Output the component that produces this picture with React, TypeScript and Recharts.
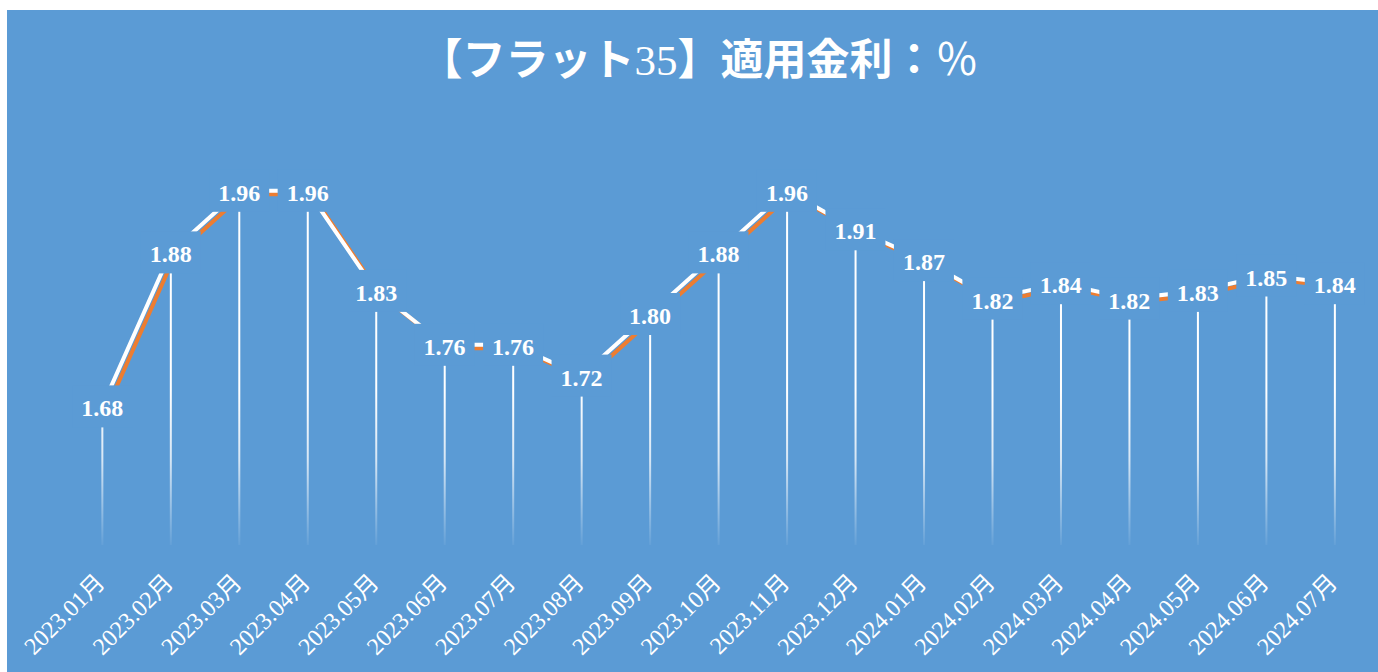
import React from 'react';
import { ComposedChart, Line, Bar, XAxis, YAxis, LabelList } from 'recharts';

const categories = [
  '2023.01月', '2023.02月', '2023.03月', '2023.04月', '2023.05月', '2023.06月', '2023.07月',
  '2023.08月', '2023.09月', '2023.10月', '2023.11月', '2023.12月', '2024.01月', '2024.02月',
  '2024.03月', '2024.04月', '2024.05月', '2024.06月', '2024.07月',
];
const rates = [1.68, 1.88, 1.96, 1.96, 1.83, 1.76, 1.76, 1.72, 1.80, 1.88, 1.96, 1.91, 1.87, 1.82, 1.84, 1.82, 1.83, 1.85, 1.84];
const yDomain = [1.5, 2.1];

const BG = '#5B9BD5';
const ORANGE = '#ED7D31';
const SERIF = "'Liberation Serif', 'Noto Sans CJK JP', serif";

const data = categories.map((month, i) => ({ month, rate: rates[i] }));

const W = 1371;
const H = 662;

const DropLine = (props: any) => {
  const { x, y, width, height } = props;
  if (height == null || height <= 0) return null;
  return <rect x={x + width / 2 - 1} y={y} width={2} height={height} fill="url(#dropGrad)" />;
};

const ValueLabel = (props: any) => {
  const { x, y, value } = props;
  if (x == null || y == null) return null;
  return (
    <g>
      <rect x={x - 30} y={y - 21} width={60} height={42} fill={BG} />
      <text
        x={x}
        y={y + 10}
        textAnchor="middle"
        fill="#fff"
        fontFamily={SERIF}
        fontWeight="bold"
        fontSize={24}
      >
        {Number(value).toFixed(2)}
      </text>
    </g>
  );
};

const MonthTick = (props: any) => {
  const { x, y, payload } = props;
  const tx = x + 4;
  const ty = y + 39;
  return (
    <text
      x={tx}
      y={ty}
      transform={`rotate(-45, ${tx}, ${ty})`}
      textAnchor="end"
      fill="#fff"
      fontFamily={SERIF}
      fontSize={24}
    >
      {payload.value}
    </text>
  );
};

export default function App() {
  return (
    <div
      style={{
        position: 'fixed',
        left: 7,
        top: 10,
        width: W,
        height: H,
        background: BG,
        overflow: 'hidden',
      }}
    >
      <style>{`.shadow-line { transform: translate(4px, 3.5px); }`}</style>
      <ComposedChart
        width={W}
        height={H}
        data={data}
        margin={{ top: 73, right: 9, bottom: 0, left: 61 }}
      >
        <defs>
          <linearGradient id="dropGrad" x1="0" y1="380" x2="0" y2="535" gradientUnits="userSpaceOnUse">
            <stop offset="0" stopColor="#fff" stopOpacity={1} />
            <stop offset="0.45" stopColor="#fff" stopOpacity={0.75} />
            <stop offset="1" stopColor="#fff" stopOpacity={0.05} />
          </linearGradient>
        </defs>
        <text
          x={692}
          y={65}
          textAnchor="middle"
          fill="#fff"
          fontFamily={SERIF}
          fontSize={43}
        >
          <tspan fontWeight="bold">【フラット</tspan>
          <tspan fontWeight="normal">35</tspan>
          <tspan fontWeight="bold">】適用金利：</tspan>
          <tspan fontWeight="normal">％</tspan>
        </text>
        <XAxis
          dataKey="month"
          interval={0}
          axisLine={false}
          tickLine={false}
          tickSize={0}
          tickMargin={0}
          height={127}
          tick={<MonthTick />}
        />
        <YAxis hide domain={yDomain} allowDataOverflow width={0} />
        <Bar dataKey="rate" shape={<DropLine />} isAnimationActive={false} />
        <Line
          className="shadow-line"
          type="linear"
          dataKey="rate"
          stroke={ORANGE}
          strokeWidth={4}
          dot={false}
          activeDot={false}
          isAnimationActive={false}
        />
        <Line
          type="linear"
          dataKey="rate"
          stroke="#fff"
          strokeWidth={4}
          dot={false}
          activeDot={false}
          isAnimationActive={false}
        >
          <LabelList dataKey="rate" content={<ValueLabel />} />
        </Line>
      </ComposedChart>
    </div>
  );
}
